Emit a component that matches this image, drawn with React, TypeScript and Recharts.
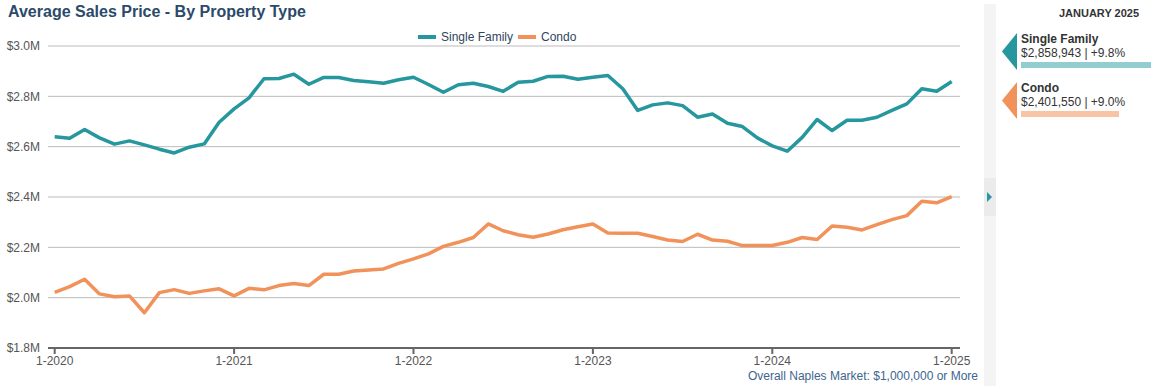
import React from "react";
import { LineChart, Line, XAxis, YAxis, CartesianGrid } from "recharts";

// Monthly average sales price, Jan 2020 – Jan 2025, in $ millions
const singleFamily = [
  2.639, 2.633, 2.668, 2.635, 2.61, 2.623, 2.607, 2.59, 2.575, 2.598, 2.611,
  2.697, 2.75, 2.794, 2.87, 2.871, 2.888, 2.848, 2.875, 2.875, 2.863,
  2.858, 2.852, 2.866, 2.876, 2.847, 2.816, 2.846, 2.852, 2.839, 2.82,
  2.856, 2.86, 2.879, 2.88, 2.868, 2.876, 2.883, 2.83, 2.744, 2.766,
  2.774, 2.763, 2.717, 2.73, 2.693, 2.68, 2.635, 2.603, 2.582, 2.637,
  2.708, 2.664, 2.705, 2.705, 2.717, 2.744, 2.77, 2.83, 2.82, 2.858943,
];
const condo = [
  2.021, 2.044, 2.073, 2.015, 2.004, 2.007, 1.94, 2.02, 2.032, 2.017, 2.027,
  2.035, 2.007, 2.037, 2.031, 2.048, 2.056, 2.048, 2.093, 2.093, 2.106,
  2.11, 2.114, 2.136, 2.154, 2.174, 2.204, 2.22, 2.239, 2.293, 2.266,
  2.25, 2.24, 2.253, 2.27, 2.282, 2.293, 2.257, 2.256, 2.256, 2.243,
  2.229, 2.223, 2.252, 2.229, 2.224, 2.207, 2.207, 2.207, 2.22, 2.239,
  2.231, 2.285, 2.28, 2.269, 2.29, 2.31, 2.326, 2.383, 2.377, 2.40155,
];

const xTickPositions = [0, 12, 24, 36, 48, 60];
const xTickLabels = ["1-2020", "1-2021", "1-2022", "1-2023", "1-2024", "1-2025"];
const yTicks = [1.8, 2.0, 2.2, 2.4, 2.6, 2.8, 3.0];

const seriesNames = ["Single Family", "Condo"];
const seriesColors = ["#26979e", "#f0925a"];
const barColors = ["#93cdcf", "#f8c4a6"];
const summaryValues = [2858943, 2401550];
const summaryChanges = ["+9.8%", "+9.0%"];
const summaryMonth = "JANUARY 2025";
const marketFloor = 1000000;

const data = singleFamily.map((sf, i) => ({ idx: i, sf, condo: condo[i] }));

const FONT = "'Liberation Sans', Arial, Helvetica, sans-serif";

function SummaryItem({ i, top }: { i: number; top: number }) {
  const barWidth = ((summaryValues[i] - marketFloor) / 1e6) * 70;
  return (
    <div style={{ position: "absolute", left: 1002, top, width: 160, height: 40 }}>
      <svg width={16} height={38} style={{ position: "absolute", left: 0, top: 0 }}>
        <polygon points="15,0 15,37 0,18.5" fill={seriesColors[i]} />
      </svg>
      <div
        style={{
          position: "absolute",
          left: 19,
          top: -1,
          fontSize: 12,
          fontWeight: "bold",
          color: "#333",
          whiteSpace: "nowrap",
        }}
      >
        {seriesNames[i]}
      </div>
      <div
        style={{
          position: "absolute",
          left: 19,
          top: 13,
          fontSize: 12,
          color: "#333",
          whiteSpace: "nowrap",
        }}
      >
        {"$" + summaryValues[i].toLocaleString("en-US") + " | " + summaryChanges[i]}
      </div>
      <div
        style={{
          position: "absolute",
          left: 19,
          top: 29,
          width: barWidth,
          height: 6,
          background: barColors[i],
        }}
      />
    </div>
  );
}

export default function App() {
  return (
    <div
      style={{
        position: "absolute",
        left: 0,
        top: 0,
        width: 1151,
        height: 390,
        overflow: "hidden",
        background: "#fff",
        fontFamily: FONT,
      }}
    >
      <div
        style={{
          position: "absolute",
          left: 8,
          top: 3,
          fontSize: 16,
          fontWeight: "bold",
          color: "#2c4a69",
          whiteSpace: "nowrap",
        }}
      >
        Average Sales Price - By Property Type
      </div>

      {/* legend */}
      <div style={{ position: "absolute", left: 418, top: 25, height: 14, whiteSpace: "nowrap" }}>
        {seriesNames.map((n, i) => (
          <span key={n} style={{ display: "inline-flex", alignItems: "center", marginRight: 5 }}>
            <span
              style={{
                display: "inline-block",
                width: 18,
                height: 4,
                background: seriesColors[i],
                marginRight: 5,
              }}
            />
            <span style={{ fontSize: 12, color: "#2f4560" }}>{n}</span>
          </span>
        ))}
      </div>

      <div style={{ position: "absolute", left: 0, top: 0 }}>
        <LineChart
          width={990}
          height={390}
          data={data}
          margin={{ top: 46, right: 30, bottom: 0, left: 0 }}
        >
          <CartesianGrid vertical={false} stroke="#bbbbbb" strokeWidth={1} />
          <XAxis
            dataKey="idx"
            type="number"
            domain={[0, 60]}
            ticks={xTickPositions}
            tickFormatter={(v: number) => xTickLabels[xTickPositions.indexOf(v)]}
            padding={{ left: 6.7, right: 8.3 }}
            height={42}
            axisLine={{ stroke: "#666", strokeWidth: 2 }}
            tickLine={{ stroke: "#666", strokeWidth: 2 }}
            tickSize={6}
            tick={{ fill: "#555", fontSize: 12 }}
            interval={0}
          />
          <YAxis
            type="number"
            domain={[1.8, 3.0]}
            ticks={yTicks}
            tickFormatter={(v: number) => `$${v.toFixed(1)}M`}
            width={48}
            axisLine={false}
            tickLine={false}
            tick={{ fill: "#555", fontSize: 12 }}
            interval={0}
          />
          <Line
            type="linear"
            dataKey="sf"
            stroke={seriesColors[0]}
            strokeWidth={3.5}
            dot={false}
            isAnimationActive={false}
            strokeLinejoin="round"
          />
          <Line
            type="linear"
            dataKey="condo"
            stroke={seriesColors[1]}
            strokeWidth={3.5}
            dot={false}
            isAnimationActive={false}
            strokeLinejoin="round"
          />
        </LineChart>
      </div>

      <div
        style={{
          position: "absolute",
          right: 1151 - 978,
          top: 369,
          fontSize: 12,
          color: "#3d6590",
          whiteSpace: "nowrap",
        }}
      >
        Overall Naples Market: $1,000,000 or More
      </div>

      {/* panel divider with toggle tab */}
      <div
        style={{
          position: "absolute",
          left: 984,
          top: 4,
          width: 12,
          height: 382,
          background: "#f4f4f4",
        }}
      />
      <div
        style={{
          position: "absolute",
          left: 984,
          top: 178,
          width: 12,
          height: 38,
          background: "#ebebeb",
        }}
      />
      <svg width={6} height={10} style={{ position: "absolute", left: 987, top: 192 }}>
        <polygon points="0,0 5,5 0,10" fill={seriesColors[0]} />
      </svg>

      {/* summary panel */}
      <div
        style={{
          position: "absolute",
          left: 1040,
          width: 118,
          top: 7,
          textAlign: "center",
          fontSize: 11,
          fontWeight: "bold",
          color: "#333",
        }}
      >
        {summaryMonth}
      </div>
      <SummaryItem i={0} top={33} />
      <SummaryItem i={1} top={82} />
    </div>
  );
}
